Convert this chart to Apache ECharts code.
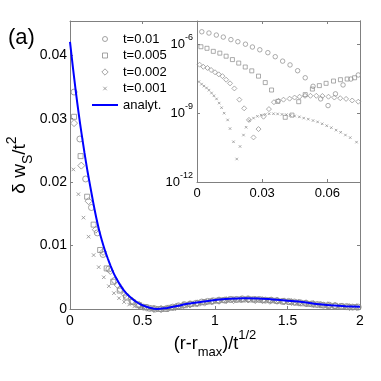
<!DOCTYPE html>
<html>
<head>
<meta charset="utf-8">
<script src="https://cdn.jsdelivr.net/npm/echarts@6/dist/echarts.min.js"></script>
<style>
  html, body { margin: 0; padding: 0; background: #fff; }
  #chart { width: 381px; height: 381px; }
</style>
</head>
<body>
<div id="chart"></div>
<script>
// legend names
const seriesNames = ['t=0.01', 't=0.005', 't=0.002', 't=0.001'];
const lineName = 'analyt.';

// analytic curve, main panel
const analytX = [0, 0.02, 0.04, 0.06, 0.08, 0.1, 0.12, 0.14, 0.16, 0.18, 0.2, 0.22, 0.24, 0.26, 0.28, 0.3, 0.32, 0.34, 0.36, 0.38, 0.4, 0.42, 0.44, 0.46, 0.48, 0.5, 0.55, 0.6, 0.65, 0.7, 0.75, 0.8, 0.9, 1.0, 1.1, 1.2, 1.3, 1.4, 1.5, 1.6, 1.7, 1.8, 1.9, 2.0];
const analytY = [0.0421, 0.0381, 0.0343, 0.0308, 0.0276, 0.0246, 0.0218, 0.0193, 0.0168, 0.0145, 0.0125, 0.0108, 0.0093, 0.0080, 0.0068, 0.0057, 0.0048, 0.0040, 0.0033, 0.0027, 0.0022, 0.0018, 0.0014, 0.0011, 0.0008, 0.0006, 0.0002, 0.0000, 0.0001, 0.0003, 0.0005, 0.0008, 0.0011, 0.0014, 0.0016, 0.0017, 0.00165, 0.0015, 0.0013, 0.0011, 0.0008, 0.0006, 0.00045, 0.00035];

// main panel, t=0.01
const mainX1 = [0.028, 0.068, 0.108, 0.148, 0.188, 0.228, 0.268, 0.308, 0.348, 0.388, 0.428, 0.468, 0.508, 0.548, 0.588, 0.628, 0.668, 0.708, 0.748, 0.788, 0.828, 0.868, 0.908, 0.948, 0.988, 1.028, 1.068, 1.108, 1.148, 1.188, 1.228, 1.268, 1.308, 1.348, 1.388, 1.428, 1.468, 1.508, 1.548, 1.588, 1.628, 1.668, 1.708, 1.748, 1.788, 1.828, 1.868, 1.908, 1.948, 1.988];
const mainY1 = [0.0342, 0.0268, 0.0205, 0.0160, 0.0120, 0.0086, 0.0063, 0.0045, 0.0031, 0.0020, 0.0012, 0.0007, 0.0003, 0.0001, 0.0000, 0.0000, 0.0001, 0.0003, 0.0005, 0.0007, 0.0008, 0.0009, 0.0011, 0.0012, 0.0013, 0.0014, 0.0014, 0.0015, 0.0015, 0.0016, 0.0016, 0.0015, 0.0015, 0.0014, 0.0014, 0.0013, 0.0012, 0.0012, 0.0011, 0.0010, 0.0009, 0.0008, 0.0007, 0.0006, 0.0006, 0.0005, 0.0004, 0.0004, 0.0003, 0.0003];

// main panel, t=0.005
const mainX2 = [0.028, 0.073, 0.118, 0.163, 0.208, 0.253, 0.298, 0.343, 0.388, 0.433, 0.478, 0.523, 0.568, 0.613, 0.658, 0.703, 0.748, 0.793, 0.838, 0.883, 0.928, 0.973, 1.018, 1.063, 1.108, 1.153, 1.198, 1.243, 1.288, 1.333, 1.378, 1.423, 1.468, 1.513, 1.558, 1.603, 1.648, 1.693, 1.738, 1.783, 1.828, 1.873, 1.918, 1.963];
const mainY2 = [0.0303, 0.0241, 0.0177, 0.0133, 0.0093, 0.0064, 0.0043, 0.0029, 0.0018, 0.0011, 0.0006, 0.0003, 0.0001, 0.0000, 0.0000, 0.0002, 0.0004, 0.0006, 0.0008, 0.0009, 0.0011, 0.0012, 0.0013, 0.0014, 0.0015, 0.0015, 0.0015, 0.0015, 0.0015, 0.0014, 0.0014, 0.0013, 0.0012, 0.0011, 0.0010, 0.0009, 0.0008, 0.0007, 0.0006, 0.0005, 0.0005, 0.0004, 0.0003, 0.0003];

// main panel, t=0.002
const mainX3 = [0.028, 0.078, 0.128, 0.178, 0.228, 0.278, 0.328, 0.378, 0.428, 0.478, 0.528, 0.578, 0.628, 0.678, 0.728, 0.778, 0.828, 0.878, 0.928, 0.978, 1.028, 1.078, 1.128, 1.178, 1.228, 1.278, 1.328, 1.378, 1.428, 1.478, 1.528, 1.578, 1.628, 1.678, 1.728, 1.778, 1.828, 1.878, 1.928, 1.978];
const mainY3 = [0.0293, 0.0226, 0.0170, 0.0125, 0.0090, 0.0060, 0.0038, 0.0023, 0.0013, 0.0006, 0.0002, 0.0000, 0.0000, 0.0001, 0.0003, 0.0005, 0.0007, 0.0009, 0.0010, 0.0012, 0.0013, 0.0014, 0.0014, 0.0015, 0.0015, 0.0014, 0.0014, 0.0013, 0.0013, 0.0012, 0.0011, 0.0010, 0.0009, 0.0008, 0.0007, 0.0006, 0.0005, 0.0004, 0.0003, 0.0003];

// main panel, t=0.001
const mainX4 = [0.023, 0.058, 0.093, 0.128, 0.163, 0.198, 0.233, 0.268, 0.303, 0.338, 0.373, 0.408, 0.443, 0.478, 0.513, 0.548, 0.583, 0.618, 0.653, 0.688, 0.723, 0.758, 0.793, 0.828, 0.863, 0.898, 0.933, 0.968, 1.003, 1.038, 1.073, 1.108, 1.143, 1.178, 1.213, 1.248, 1.283, 1.318, 1.353, 1.388, 1.423, 1.458, 1.493, 1.528, 1.563, 1.598, 1.633, 1.668, 1.703, 1.738, 1.773, 1.808, 1.843, 1.878, 1.913, 1.948, 1.983];
const mainY4 = [0.0220, 0.0181, 0.0144, 0.0114, 0.0085, 0.0066, 0.0050, 0.0036, 0.0025, 0.0017, 0.0011, 0.0007, 0.0004, 0.0002, 0.0001, 0.0000, 0.0000, 0.0000, 0.0001, 0.0002, 0.0003, 0.0005, 0.0006, 0.0007, 0.0008, 0.0009, 0.0010, 0.0011, 0.0012, 0.0013, 0.0013, 0.0014, 0.0014, 0.0014, 0.0014, 0.0014, 0.0014, 0.0013, 0.0013, 0.0013, 0.0012, 0.0011, 0.0011, 0.0010, 0.0009, 0.0009, 0.0008, 0.0007, 0.0007, 0.0006, 0.0005, 0.0005, 0.0004, 0.0004, 0.0003, 0.0003, 0.0002];

// inset (log scale)
const insetX1 = [0.0022, 0.0055, 0.0089, 0.0121, 0.0156, 0.0188, 0.0223, 0.0255, 0.0289, 0.0326, 0.0360, 0.0394, 0.0428, 0.0463, 0.0498, 0.0534, 0.0569, 0.0603, 0.0637, 0.0672, 0.0708, 0.0742];
const insetY1 = [3.4e-6, 3.0e-6, 2.45e-6, 2.0e-6, 1.55e-6, 1.26e-6, 9.8e-7, 7.4e-7, 5.6e-7, 4.2e-7, 2.8e-7, 1.8e-7, 1.23e-7, 6.9e-8, 3.4e-8, 1.45e-8, 4.1e-9, 2.1e-9, 6.8e-9, 1.66e-8, 3.0e-8, 4.5e-8];

const insetX2 = [0.0018, 0.0046, 0.0075, 0.0105, 0.0134, 0.0163, 0.0192, 0.0222, 0.0252, 0.0283, 0.0314, 0.0343, 0.0372, 0.0406, 0.0437, 0.0468, 0.0498, 0.0531, 0.0563, 0.0594, 0.0628, 0.0660, 0.0691, 0.0725];
const insetY2 = [7.6e-7, 6.5e-7, 4.8e-7, 4.0e-7, 2.95e-7, 2.1e-7, 1.48e-7, 1.0e-7, 6.8e-8, 4.0e-8, 2.1e-8, 1.0e-8, 3.2e-9, 6.5e-10, 8.1e-10, 3.1e-9, 6.3e-9, 1.1e-8, 1.55e-8, 1.95e-8, 2.45e-8, 2.8e-8, 3.0e-8, 3.4e-8];

const insetX3 = [0.0012, 0.0029, 0.0048, 0.0065, 0.0083, 0.0100, 0.0117, 0.0134, 0.0152, 0.0172, 0.0195, 0.0217, 0.0239, 0.0260, 0.0283, 0.0306, 0.0331, 0.0354, 0.0375, 0.0398, 0.0426, 0.0449, 0.0472, 0.0497, 0.0522, 0.0549, 0.0577, 0.0605, 0.0632, 0.0659, 0.0686, 0.0714, 0.0742];
const insetY3 = [1.26e-7, 1.02e-7, 9.1e-8, 7.4e-8, 5.9e-8, 4.8e-8, 4.0e-8, 2.8e-8, 1.95e-8, 1.17e-8, 3.8e-9, 1.6e-9, 5.0e-10, 8.7e-11, 2.0e-10, 6.9e-10, 1.48e-9, 2.95e-9, 3.4e-9, 3.8e-9, 4.2e-9, 4.7e-9, 5.1e-9, 5.6e-9, 5.6e-9, 5.6e-9, 5.5e-9, 5.1e-9, 4.7e-9, 4.4e-9, 4.1e-9, 3.5e-9, 3.1e-9];

const insetX4 = [0.0009, 0.0021, 0.0032, 0.0044, 0.0055, 0.0067, 0.0078, 0.0090, 0.0102, 0.0113, 0.0125, 0.0141, 0.0152, 0.0168, 0.0183, 0.0198, 0.0214, 0.0226, 0.0241, 0.0260, 0.0278, 0.0295, 0.0314, 0.0332, 0.0352, 0.0371, 0.0391, 0.0411, 0.0429, 0.0449, 0.0471, 0.0491, 0.0512, 0.0534, 0.0555, 0.0576, 0.0597, 0.0618, 0.0640, 0.0661, 0.0683, 0.0705, 0.0734];
const insetY4 = [2.3e-8, 1.8e-8, 1.48e-8, 1.23e-8, 9.8e-9, 7.4e-9, 5.6e-9, 4.1e-9, 2.7e-9, 1.7e-9, 9.8e-10, 5.0e-10, 2.1e-10, 5.6e-11, 1.0e-11, 3.5e-11, 1.1e-10, 2.4e-10, 4.7e-10, 6.0e-10, 7.2e-10, 8.1e-10, 8.7e-10, 9.3e-10, 9.3e-10, 9.1e-10, 8.7e-10, 8.5e-10, 7.9e-10, 7.4e-10, 6.8e-10, 6.0e-10, 5.4e-10, 4.7e-10, 4.1e-10, 3.4e-10, 2.8e-10, 2.3e-10, 1.8e-10, 1.45e-10, 1.1e-10, 8.5e-11, 5.4e-11];

const pairs = (xs, ys) => xs.map((x, i) => [x, ys[i]]);

const font = 'Liberation Sans';
const markerGrey = '#8c8c8c';
const boxGrey = '#808080';
const blue = '#0000ff';
// x marker, drawn at half of the symbol box
const crossPath = 'path://M-2,-2M2,2M-1,-1L1,1M1,-1L-1,1';

// legend icons, square boxes with some margin so they come out small
const legendIcons = [
  'path://M-0.2,-0.2M1.2,1.2M0,0.5A0.5,0.5,0,1,1,1,0.5A0.5,0.5,0,1,1,0,0.5Z',
  'path://M-0.2,-0.2M1.2,1.2M0,0L1,0L1,1L0,1Z',
  'path://M-0.05,-0.05M1.05,1.05M0.5,0L1,0.5L0.5,1L0,0.5Z',
  crossPath
];
// line icon: 2px band inside the 26x7 box
const lineIcon = 'path://M0,0M26,7M0,2.5L26,2.5L26,4.5L0,4.5Z';

const symbols = ['circle', 'rect', 'diamond', crossPath];
const mainSizes = [6, 5, 7, 7];
const insetSizes = [4.5, 4, 5, 5];

const mainX = [mainX1, mainX2, mainX3, mainX4];
const mainY = [mainY1, mainY2, mainY3, mainY4];
const insetX = [insetX1, insetX2, insetX3, insetX4];
const insetY = [insetY1, insetY2, insetY3, insetY4];

function boxAxis(gridIndex, position, extra) {
  return Object.assign({
    gridIndex: gridIndex,
    position: position,
    type: 'value',
    axisLine: { show: true, onZero: false, lineStyle: { color: boxGrey, width: 1 } },
    axisTick: { show: true, inside: true, length: 3, lineStyle: { color: boxGrey } },
    splitLine: { show: false },
    axisLabel: { show: false }
  }, extra);
}

const tickLabel = { show: true, color: '#000', fontSize: 14, fontFamily: font };

const series = [];
seriesNames.forEach((name, k) => {
  series.push({
    type: 'scatter', name: name, xAxisIndex: 0, yAxisIndex: 0,
    data: pairs(mainX[k], mainY[k]),
    symbol: symbols[k], symbolSize: mainSizes[k],
    itemStyle: { color: 'transparent', borderColor: markerGrey, borderWidth: 1 },
    z: 2
  });
});
series.push({
  type: 'line', name: lineName, xAxisIndex: 0, yAxisIndex: 0,
  data: pairs(analytX, analytY),
  symbol: 'none', smooth: 0.2,
  lineStyle: { color: blue, width: 2 },
  itemStyle: { color: blue },
  z: 5
});
seriesNames.forEach((name, k) => {
  series.push({
    type: 'scatter', name: name, xAxisIndex: 2, yAxisIndex: 2,
    data: pairs(insetX[k], insetY[k]),
    symbol: symbols[k], symbolSize: insetSizes[k],
    itemStyle: { color: 'transparent', borderColor: markerGrey, borderWidth: 0.9 },
    z: 6
  });
});

const legendData = seriesNames.map((name, k) => ({
  name: name,
  icon: legendIcons[k],
  itemStyle: { color: 'transparent', borderColor: markerGrey, borderWidth: 1 }
}));
legendData.push({ name: lineName, icon: lineIcon, itemStyle: { color: blue, borderWidth: 0 } });

const option = {
  animation: false,
  backgroundColor: '#fff',
  grid: [
    { left: 70, top: 21, width: 290, height: 288 },
    { left: 197, top: 21, width: 163, height: 161, show: true, backgroundColor: '#fff', borderWidth: 0, z: 3 }
  ],
  xAxis: [
    boxAxis(0, 'bottom', { min: 0, max: 2, interval: 0.5,
      axisLabel: Object.assign({}, tickLabel, { margin: 5 }) }),
    boxAxis(0, 'top', { min: 0, max: 2, interval: 0.5 }),
    boxAxis(1, 'bottom', { min: 0, max: 0.075, interval: 0.03, z: 4,
      axisLabel: Object.assign({}, tickLabel, { fontSize: 13, margin: 5,
        formatter: v => (Math.abs(v / 0.03 - Math.round(v / 0.03)) < 1e-6 ? String(+v.toFixed(2)) : '') }) }),
    boxAxis(1, 'top', { min: 0, max: 0.075, interval: 0.03, z: 4 })
  ],
  yAxis: [
    boxAxis(0, 'left', { min: 0, max: 0.0454, interval: 0.01,
      axisLabel: Object.assign({}, tickLabel, { margin: 3,
        formatter: v => (Math.abs(v * 100 - Math.round(v * 100)) < 1e-6 ? String(+v.toFixed(2)) : '') }) }),
    boxAxis(0, 'right', { min: 0, max: 0.0454, interval: 0.01 }),
    boxAxis(1, 'left', { type: 'log', logBase: 10, min: 1e-12, max: 1e-5, interval: 3, z: 4,
      axisLabel: { show: true, margin: 4, color: '#000', fontFamily: font,
        formatter: v => {
          const e = Math.round(Math.log10(v));
          return e % 3 === 0 ? '{b|10}{e|' + e + '}' : '';
        },
        rich: {
          b: { fontSize: 13, fontFamily: font, color: '#000', lineHeight: 13, verticalAlign: 'bottom' },
          e: { fontSize: 9, fontFamily: font, color: '#000', lineHeight: 9, verticalAlign: 'bottom', padding: [0, 0, 8, 0] }
        } } }),
    boxAxis(1, 'right', { type: 'log', logBase: 10, min: 1e-12, max: 1e-5, interval: 3, z: 4 })
  ],
  legend: {
    data: legendData,
    orient: 'vertical',
    left: 87, top: 27,
    itemWidth: 26, itemHeight: 7, itemGap: 2.5,
    symbolKeepAspect: true,
    selectedMode: false,
    textStyle: { fontSize: 13, fontFamily: font, color: '#000', lineHeight: 14 }
  },
  graphic: [
    { type: 'text', x: 8, y: 38,
      style: { text: '(a)', fontSize: 22, fontFamily: font, fill: '#000', verticalAlign: 'middle' } },
    { type: 'text', x: 215, y: 344,
      style: { text: '{n|(r-r}{b|max}{n|)/t}{p|1/2}', align: 'center', verticalAlign: 'middle', fill: '#000',
        rich: {
          n: { fontSize: 18, fontFamily: font, fill: '#000', lineHeight: 30, verticalAlign: 'middle' },
          b: { fontSize: 13, fontFamily: font, fill: '#000', lineHeight: 13, verticalAlign: 'bottom' },
          p: { fontSize: 13, fontFamily: font, fill: '#000', lineHeight: 13, verticalAlign: 'top' }
        } } },
    { type: 'text', x: 20, y: 165, rotation: Math.PI / 2,
      style: { text: '{n|\u03b4 w}{b|S}{n|/t}{p|2}', align: 'center', verticalAlign: 'middle', fill: '#000',
        rich: {
          n: { fontSize: 19, fontFamily: font, fill: '#000', lineHeight: 30, verticalAlign: 'middle' },
          b: { fontSize: 14, fontFamily: font, fill: '#000', lineHeight: 14, verticalAlign: 'bottom' },
          p: { fontSize: 14, fontFamily: font, fill: '#000', lineHeight: 14, verticalAlign: 'top' }
        } } }
  ],
  series: series
};

const chart = echarts.init(document.getElementById('chart'));
chart.setOption(option);
</script>
</body>
</html>
